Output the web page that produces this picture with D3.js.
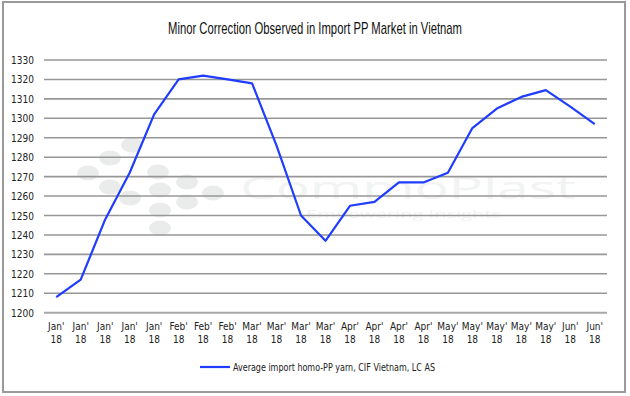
<!DOCTYPE html>
<html>
<head>
<meta charset="utf-8">
<script src="https://cdn.jsdelivr.net/npm/d3@7"></script>
<style>
  html, body { margin: 0; padding: 0; background: #fff; }
  svg { display: block; }
  .axis-text { font-family: 'Liberation Sans Narrow', 'DejaVu Sans Condensed', sans-serif; fill: #222; }
</style>
</head>
<body>
<svg id="chart" width="630" height="396"></svg>
<script>
// chart data
const months = ['Jan', 'Jan', 'Jan', 'Jan', 'Jan', 'Feb', 'Feb', 'Feb', 'Mar', 'Mar', 'Mar', 'Mar',
  'Apr', 'Apr', 'Apr', 'Apr', 'May', 'May', 'May', 'May', 'May', 'Jun', 'Jun']
const years = months.map(() => '18')
const prices = [1208, 1217, 1248, 1272, 1302, 1320, 1322, 1320, 1318, 1286, 1250, 1237,
  1255, 1257, 1267, 1267, 1272, 1295, 1305, 1311, 1314.5, 1306, 1297]
const yTicks = [1200, 1210, 1220, 1230, 1240, 1250, 1260, 1270, 1280, 1290, 1300, 1310, 1320, 1330]
const seriesName = 'Average import homo-PP yarn, CIF Vietnam, LC AS'
const chartTitle = 'Minor Correction Observed in Import PP Market in Vietnam'

// watermark logo dots (decoration only)
const logoDots = [[132, 145], [110, 158], [88, 173], [110, 187], [130, 198], [158, 172],
  [160, 190], [160, 210], [160, 228], [187, 182], [187, 202], [213, 193]]

const svg = d3.select('#chart')
const plotLeft = 44
const plotRight = 607
const plotTop = 60
const plotBottom = 312.7

// outer frame
svg.append('rect')
  .attr('x', 3).attr('y', 2)
  .attr('width', 622).attr('height', 390)
  .attr('fill', '#fff')
  .attr('stroke', '#9a9a9a')
  .attr('stroke-width', 2)

// title
svg.append('text')
  .attr('x', 315).attr('y', 34)
  .attr('text-anchor', 'middle')
  .attr('font-family', "'Liberation Sans Narrow', sans-serif")
  .attr('font-size', 17)
  .attr('textLength', 294)
  .attr('lengthAdjust', 'spacingAndGlyphs')
  .attr('fill', '#111')
  .text(chartTitle)

// watermark
const wm = svg.append('g').attr('class', 'watermark')
wm.selectAll('ellipse')
  .data(logoDots)
  .enter()
  .append('ellipse')
  .attr('cx', d => d[0]).attr('cy', d => d[1])
  .attr('rx', 11).attr('ry', 7.5)
  .attr('fill', '#eaeceb')
wm.append('text')
  .attr('x', 240).attr('y', 199)
  .attr('font-family', "'Open Sans', sans-serif")
  .attr('font-size', 31)
  .attr('fill', '#f2f3f3')
  .attr('textLength', 336)
  .attr('lengthAdjust', 'spacingAndGlyphs')
  .text('CommoPlast')
wm.append('text')
  .attr('x', 306).attr('y', 218)
  .attr('font-family', "'Open Sans', sans-serif")
  .attr('font-size', 10)
  .attr('fill', '#f2f3f3')
  .attr('textLength', 195)
  .attr('lengthAdjust', 'spacingAndGlyphs')
  .text('Empowering Insights')

// scales
const x = d3.scaleBand()
  .domain(d3.range(prices.length))
  .range([plotLeft, plotRight])
const y = d3.scaleLinear()
  .domain([1200, 1330])
  .range([plotBottom, plotTop])

// horizontal grid lines
svg.append('g')
  .selectAll('line')
  .data(yTicks)
  .enter()
  .append('line')
  .attr('x1', plotLeft).attr('x2', plotRight)
  .attr('y1', d => y(d)).attr('y2', d => y(d))
  .attr('stroke', d => d === 1200 ? '#a8a8a8' : '#979797')
  .attr('stroke-width', d => d === 1200 ? 2 : 1.6)

// y axis labels
const yAxis = svg.append('g')
  .attr('transform', `translate(${plotLeft - 10}, 0)`)
  .call(d3.axisLeft(y).tickValues(yTicks).tickFormat(d3.format('d')).tickSize(0).tickPadding(0))
yAxis.select('.domain').remove()
yAxis.selectAll('text')
  .attr('class', 'axis-text')
  .attr('font-size', 10)
  .attr('dy', '0.35em')

// x axis labels (two lines)
const xAxis = svg.append('g')
  .attr('transform', `translate(0, ${plotBottom + 17})`)
  .call(d3.axisBottom(x).tickSize(0).tickPadding(0).tickFormat(''))
xAxis.select('.domain').remove()
xAxis.selectAll('.tick').each(function (d) {
  const t = d3.select(this).select('text')
    .attr('class', 'axis-text')
    .attr('font-size', 10)
    .attr('dy', 0)
    .attr('y', 0)
  t.append('tspan').attr('x', 0).attr('dy', 0).text(months[d] + "'")
  t.append('tspan').attr('x', 0).attr('dy', 13.5).text(years[d])
})

// price line
const line = d3.line()
  .x((d, i) => x(i) + x.bandwidth() / 2)
  .y(d => y(d))
svg.append('path')
  .datum(prices)
  .attr('d', line)
  .attr('fill', 'none')
  .attr('stroke', '#1f3cff')
  .attr('stroke-width', 2.2)
  .attr('stroke-linejoin', 'round')

// legend
const legend = svg.append('g').attr('transform', 'translate(200, 367)')
legend.append('line')
  .attr('x1', 0).attr('x2', 30)
  .attr('stroke', '#1f3cff')
  .attr('stroke-width', 2.2)
legend.append('text')
  .attr('class', 'axis-text')
  .attr('x', 33).attr('y', 4)
  .attr('font-size', 10.5)
  .attr('textLength', 202)
  .attr('lengthAdjust', 'spacingAndGlyphs')
  .text(seriesName)
</script>
</body>
</html>
